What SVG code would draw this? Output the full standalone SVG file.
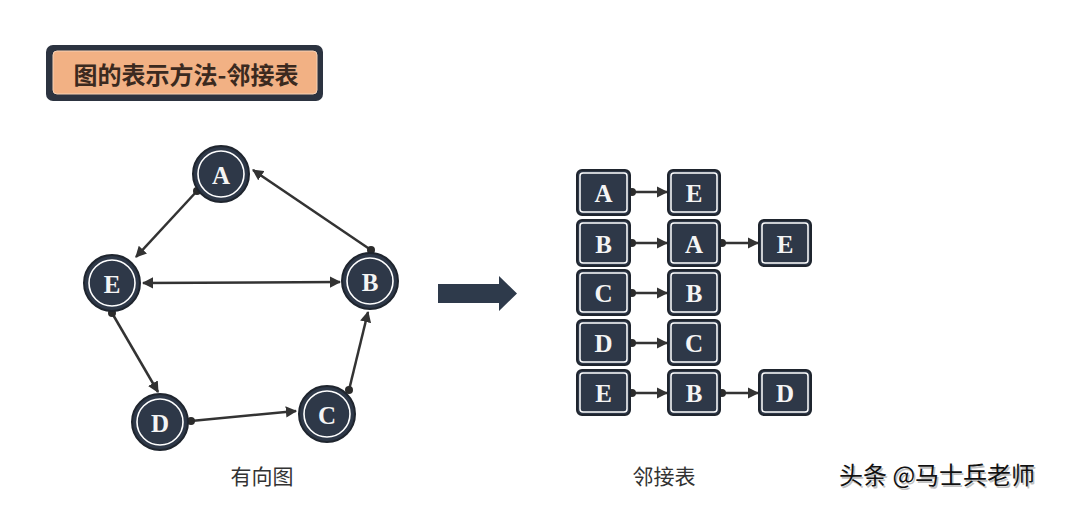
<svg xmlns="http://www.w3.org/2000/svg" width="1080" height="505" viewBox="0 0 1080 505">
<style>
.nc{fill:#2e3848;stroke:#1f252e;stroke-width:2}
.ni{fill:none;stroke:#ffffff;stroke-width:1.6}
.nt{font-family:"Liberation Serif",serif;font-weight:bold;font-size:25px;fill:#f4f4f4;text-anchor:middle;dominant-baseline:central}
.bx{fill:#2e3848;stroke:#1f252e;stroke-width:2}
.bi{fill:none;stroke:#ffffff;stroke-width:1.5}
.e{stroke:#333333;stroke-width:2.5;fill:none}
.dot{fill:#2b2b2b}
.lbl{font-family:"Liberation Serif","Noto Sans CJK SC",serif;font-size:21px;fill:#333333;text-anchor:middle}
</style>
<defs>
<marker id="ah" viewBox="0 0 10 10" refX="9" refY="5" markerWidth="4.5" markerHeight="4.5" orient="auto-start-reverse" markerUnits="strokeWidth">
<path d="M0,0 L10,5 L0,10 Z" fill="#333333"/>
</marker>
</defs>
<rect width="1080" height="505" fill="#ffffff"/>
<g id="title">
<rect x="46" y="45" width="277" height="56" rx="7" fill="#2c3340"/>
<rect x="53" y="51" width="264" height="43" rx="4" fill="#f2b184" stroke="#f7d2b5" stroke-width="1"/>
<text x="186" y="73" font-family="'Noto Sans CJK SC',sans-serif" font-weight="bold" font-size="24" fill="#3b2a1f" text-anchor="middle" dominant-baseline="central">图的表示方法-邻接表</text>
</g>
<g id="connectors">
<line class="e" x1="197" y1="191" x2="136" y2="257" marker-end="url(#ah)"/>
<circle class="dot" cx="197" cy="191" r="4"/>
<line class="e" x1="371" y1="250" x2="253" y2="170" marker-end="url(#ah)"/>
<circle class="dot" cx="371" cy="250" r="4"/>
<line class="e" x1="143" y1="283" x2="340" y2="282" marker-start="url(#ah)" marker-end="url(#ah)"/>
<line class="e" x1="112" y1="313" x2="158" y2="392" marker-end="url(#ah)"/>
<circle class="dot" cx="112" cy="313" r="4"/>
<line class="e" x1="191" y1="421" x2="296" y2="411" marker-end="url(#ah)"/>
<circle class="dot" cx="191" cy="421" r="4"/>
<line class="e" x1="349" y1="390" x2="368" y2="312" marker-end="url(#ah)"/>
<circle class="dot" cx="349" cy="390" r="4"/>
<line class="e" x1="632" y1="192" x2="667" y2="192" marker-end="url(#ah)"/>
<circle class="dot" cx="632" cy="192" r="4"/>
<line class="e" x1="632" y1="243" x2="667" y2="243" marker-end="url(#ah)"/>
<circle class="dot" cx="632" cy="243" r="4"/>
<line class="e" x1="722" y1="243" x2="758" y2="243" marker-end="url(#ah)"/>
<circle class="dot" cx="722" cy="243" r="4"/>
<line class="e" x1="632" y1="293" x2="667" y2="293" marker-end="url(#ah)"/>
<circle class="dot" cx="632" cy="293" r="4"/>
<line class="e" x1="632" y1="343" x2="667" y2="343" marker-end="url(#ah)"/>
<circle class="dot" cx="632" cy="343" r="4"/>
<line class="e" x1="632" y1="393" x2="667" y2="393" marker-end="url(#ah)"/>
<circle class="dot" cx="632" cy="393" r="4"/>
<line class="e" x1="722" y1="393" x2="758" y2="393" marker-end="url(#ah)"/>
<circle class="dot" cx="722" cy="393" r="4"/>
</g>
<g id="node-A"><circle class="nc" cx="221" cy="174" r="28"/><circle class="ni" cx="221" cy="174" r="23"/><text class="nt" x="221" y="175">A</text></g>
<g id="node-E"><circle class="nc" cx="112" cy="283" r="28"/><circle class="ni" cx="112" cy="283" r="23"/><text class="nt" x="112" y="284">E</text></g>
<g id="node-B"><circle class="nc" cx="370" cy="281" r="28"/><circle class="ni" cx="370" cy="281" r="23"/><text class="nt" x="370" y="282">B</text></g>
<g id="node-D"><circle class="nc" cx="160" cy="422" r="28"/><circle class="ni" cx="160" cy="422" r="23"/><text class="nt" x="160" y="423">D</text></g>
<g id="node-C"><circle class="nc" cx="327" cy="414" r="28"/><circle class="ni" cx="327" cy="414" r="23"/><text class="nt" x="327" y="415">C</text></g>
<g id="bigarrow"><path d="M438,284 L499,284 L499,276 L517,293.5 L499,311 L499,303 L438,303 Z" fill="#2e3a4b"/></g>
<g id="list-A1"><rect class="bx" x="577" y="170" width="53" height="45" rx="5"/><rect class="bi" x="580" y="173" width="47" height="39" rx="3"/><text class="nt" x="603.5" y="193">A</text></g>
<g id="list-E1"><rect class="bx" x="668" y="170" width="52" height="45" rx="5"/><rect class="bi" x="671" y="173" width="46" height="39" rx="3"/><text class="nt" x="694" y="193">E</text></g>
<g id="list-B1"><rect class="bx" x="577" y="220" width="53" height="46" rx="5"/><rect class="bi" x="580" y="223" width="47" height="40" rx="3"/><text class="nt" x="603.5" y="244">B</text></g>
<g id="list-A2"><rect class="bx" x="668" y="220" width="52" height="46" rx="5"/><rect class="bi" x="671" y="223" width="46" height="40" rx="3"/><text class="nt" x="694" y="244">A</text></g>
<g id="list-E2"><rect class="bx" x="759" y="220" width="52" height="46" rx="5"/><rect class="bi" x="762" y="223" width="46" height="40" rx="3"/><text class="nt" x="785" y="244">E</text></g>
<g id="list-C1"><rect class="bx" x="577" y="270" width="53" height="45" rx="5"/><rect class="bi" x="580" y="273" width="47" height="39" rx="3"/><text class="nt" x="603.5" y="293">C</text></g>
<g id="list-B2"><rect class="bx" x="668" y="270" width="52" height="45" rx="5"/><rect class="bi" x="671" y="273" width="46" height="39" rx="3"/><text class="nt" x="694" y="293">B</text></g>
<g id="list-D1"><rect class="bx" x="577" y="320" width="53" height="45" rx="5"/><rect class="bi" x="580" y="323" width="47" height="39" rx="3"/><text class="nt" x="603.5" y="343">D</text></g>
<g id="list-C2"><rect class="bx" x="668" y="320" width="52" height="45" rx="5"/><rect class="bi" x="671" y="323" width="46" height="39" rx="3"/><text class="nt" x="694" y="343">C</text></g>
<g id="list-E3"><rect class="bx" x="577" y="370" width="53" height="45" rx="5"/><rect class="bi" x="580" y="373" width="47" height="39" rx="3"/><text class="nt" x="603.5" y="393">E</text></g>
<g id="list-B3"><rect class="bx" x="668" y="370" width="52" height="45" rx="5"/><rect class="bi" x="671" y="373" width="46" height="39" rx="3"/><text class="nt" x="694" y="393">B</text></g>
<g id="list-D2"><rect class="bx" x="759" y="370" width="52" height="45" rx="5"/><rect class="bi" x="762" y="373" width="46" height="39" rx="3"/><text class="nt" x="785" y="393">D</text></g>
<g id="labels">
<text class="lbl" x="262" y="484">有向图</text>
<text class="lbl" x="664" y="484">邻接表</text>
</g>
<g id="watermark">
<text x="839" y="484" font-family="'Noto Sans CJK SC',sans-serif" font-size="24" fill="#999999" opacity="0.6" transform="translate(1.5,1.5)">头条 @马士兵老师</text>
<text x="839" y="484" font-family="'Noto Sans CJK SC',sans-serif" font-size="24" fill="#111111">头条 @马士兵老师</text>
</g>
</svg>
